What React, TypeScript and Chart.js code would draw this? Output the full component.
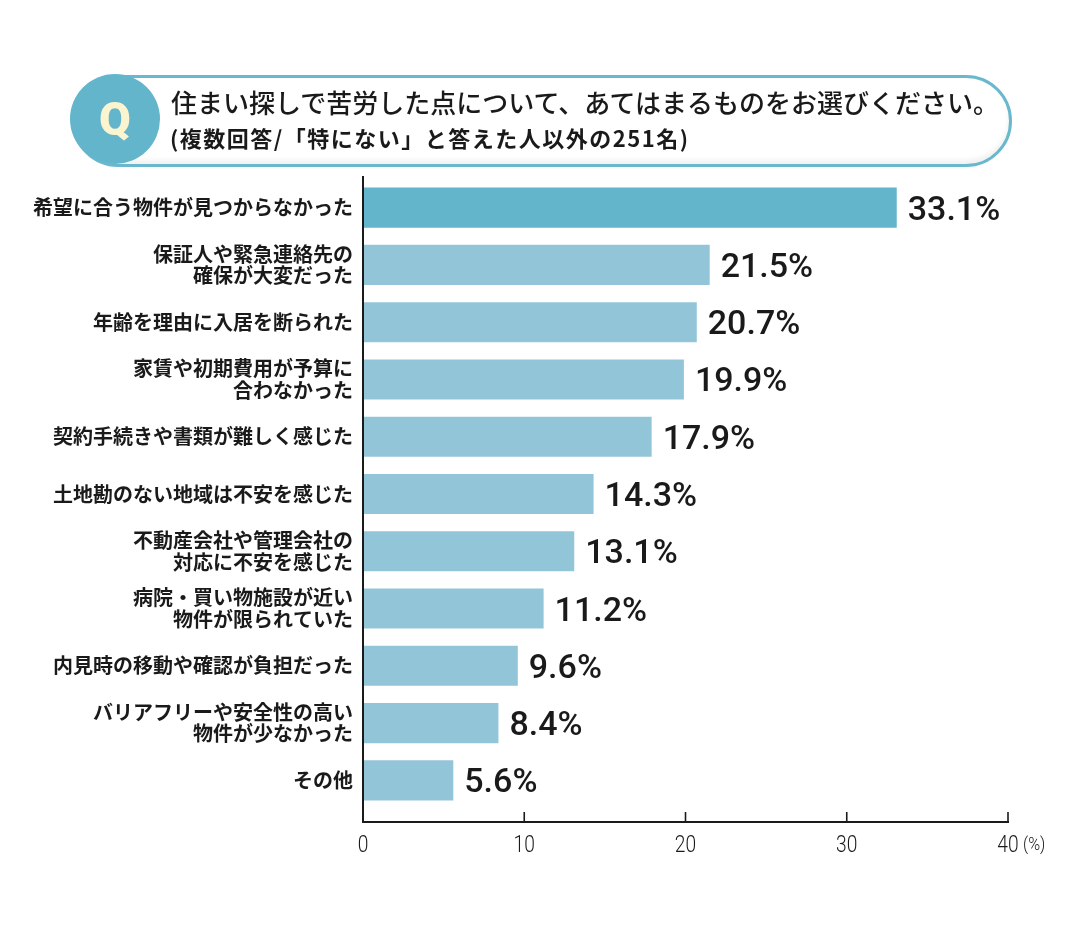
import React, { useEffect, useRef } from "react";
import { Chart, registerables } from "chart.js";

Chart.register(...registerables);

const categories: (string | string[])[] = [
  "希望に合う物件が見つからなかった",
  ["保証人や緊急連絡先の", "確保が大変だった"],
  "年齢を理由に入居を断られた",
  ["家賃や初期費用が予算に", "合わなかった"],
  "契約手続きや書類が難しく感じた",
  "土地勘のない地域は不安を感じた",
  ["不動産会社や管理会社の", "対応に不安を感じた"],
  ["病院・買い物施設が近い", "物件が限られていた"],
  "内見時の移動や確認が負担だった",
  ["バリアフリーや安全性の高い", "物件が少なかった"],
  "その他",
];

const values: number[] = [33.1, 21.5, 20.7, 19.9, 17.9, 14.3, 13.1, 11.2, 9.6, 8.4, 5.6];

const xTicks: number[] = [0, 10, 20, 30, 40];
const unitLabel = "(%)";

const titleText = "住まい探しで苦労した点について、あてはまるものをお選びください。";
const subtitleText = "(複数回答/「特にない」と答えた人以外の251名)";

const TOP_COLOR = "#62b5cb";
const BAR_COLOR = "#93c5d8";
const INK = "#1a1a1a";
const JP_FONT = "'Noto Sans CJK JP', 'Noto Sans', sans-serif";

// Axis lines, inward tick marks and condensed tick numbers
const axisPlugin = {
  id: "axisDecor",
  afterDraw(chart: any) {
    const { ctx, chartArea } = chart;
    const xs = chart.scales.x;
    const axisY = chartArea.bottom + 13;
    ctx.save();
    ctx.strokeStyle = INK;
    ctx.lineWidth = 2;
    ctx.beginPath();
    ctx.moveTo(chartArea.left, chartArea.top - 3);
    ctx.lineTo(chartArea.left, axisY);
    ctx.lineTo(xs.getPixelForValue(xTicks[xTicks.length - 1]) + 1, axisY);
    ctx.stroke();
    ctx.lineWidth = 1.6;
    xTicks.forEach((t) => {
      if (t === 0) return;
      const px = xs.getPixelForValue(t);
      ctx.beginPath();
      ctx.moveTo(px, axisY - 10);
      ctx.lineTo(px, axisY);
      ctx.stroke();
    });
    ctx.fillStyle = INK;
    ctx.textBaseline = "alphabetic";
    xTicks.forEach((t) => {
      const px = xs.getPixelForValue(t);
      ctx.save();
      ctx.translate(px, axisY + 30);
      ctx.scale(0.8, 1);
      ctx.font = "300 24px Roboto";
      ctx.textAlign = "center";
      ctx.fillText(String(t), 0, 0);
      ctx.restore();
    });
    const lastPx = xs.getPixelForValue(xTicks[xTicks.length - 1]);
    ctx.save();
    ctx.translate(lastPx + 15, axisY + 28);
    ctx.scale(0.85, 1);
    ctx.font = "300 19px Roboto";
    ctx.textAlign = "left";
    ctx.fillText(unitLabel, 0, 0);
    ctx.restore();
    ctx.restore();
  },
};

// Percentage figure beside each bar
const valueLabelPlugin = {
  id: "valueLabels",
  afterDatasetsDraw(chart: any) {
    const { ctx } = chart;
    const meta = chart.getDatasetMeta(0);
    ctx.save();
    ctx.fillStyle = INK;
    ctx.font = "500 34px Roboto";
    ctx.textAlign = "left";
    ctx.textBaseline = "alphabetic";
    meta.data.forEach((bar: any, i: number) => {
      ctx.fillText(`${values[i].toFixed(1)}%`, bar.x + 11, bar.y + 12);
    });
    ctx.restore();
  },
};

function ChartCanvas() {
  const ref = useRef<HTMLCanvasElement | null>(null);
  useEffect(() => {
    if (!ref.current) return;
    const chart = new Chart(ref.current, {
      type: "bar",
      data: {
        labels: categories,
        datasets: [
          {
            data: values,
            backgroundColor: values.map((_, i) => (i === 0 ? TOP_COLOR : BAR_COLOR)),
            borderWidth: 0,
            categoryPercentage: 1,
            barPercentage: 0.7,
          },
        ],
      },
      options: {
        indexAxis: "y",
        animation: false,
        responsive: false,
        maintainAspectRatio: false,
        layout: { padding: { top: 179, right: 72, bottom: 0, left: 0 } },
        plugins: {
          legend: { display: false },
          tooltip: { enabled: false },
        },
        scales: {
          x: {
            min: 0,
            max: 40,
            grid: { display: false },
            border: { display: false },
            ticks: { display: false, stepSize: 10 },
            afterFit: (s: any) => {
              s.height = 117;
            },
          },
          y: {
            grid: { display: false },
            border: { display: false },
            ticks: {
              color: INK,
              padding: 2,
              font: { family: JP_FONT, size: 20, weight: "bold", lineHeight: 1.08 },
            },
            afterFit: (s: any) => {
              s.width = 363;
            },
          },
        },
      },
      plugins: [axisPlugin, valueLabelPlugin],
    });
    return () => chart.destroy();
  }, []);
  return <canvas ref={ref} width={1080} height={926} style={{ position: "absolute", left: 0, top: 0 }} />;
}

function Header() {
  return (
    <div style={{ position: "absolute", left: 0, top: 0, width: 1080, height: 180 }}>
      <div
        style={{
          position: "absolute",
          left: 72,
          top: 75,
          width: 934,
          height: 86,
          border: "3px solid #6ab8cd",
          borderRadius: 46,
          background: "#ffffff",
          boxShadow: "inset 0 -4px 5px rgba(0,0,0,0.06)",
        }}
      />
      <div
        style={{
          position: "absolute",
          left: 70,
          top: 74,
          width: 90,
          height: 90,
          borderRadius: "50%",
          background: TOP_COLOR,
          color: "#fcf4cf",
          fontFamily: "Roboto, 'Noto Sans', sans-serif",
          fontWeight: 900,
          fontSize: 46,
          display: "flex",
          alignItems: "center",
          justifyContent: "center",
        }}
      >
        Q
      </div>
      <div
        style={{
          position: "absolute",
          left: 171,
          top: 85,
          fontFamily: JP_FONT,
          fontWeight: 500,
          fontSize: 26,
          lineHeight: "34px",
          color: INK,
          whiteSpace: "nowrap",
        }}
      >
        {titleText}
      </div>
      <div
        style={{
          position: "absolute",
          left: 170,
          top: 122,
          fontFamily: JP_FONT,
          fontWeight: 700,
          fontSize: 22,
          letterSpacing: 1.5,
          lineHeight: "30px",
          color: INK,
          whiteSpace: "nowrap",
        }}
      >
        {subtitleText}
      </div>
    </div>
  );
}

export default function App() {
  return (
    <div style={{ position: "fixed", left: 0, top: 0, width: 1080, height: 926, background: "#ffffff" }}>
      <ChartCanvas />
      <Header />
    </div>
  );
}
